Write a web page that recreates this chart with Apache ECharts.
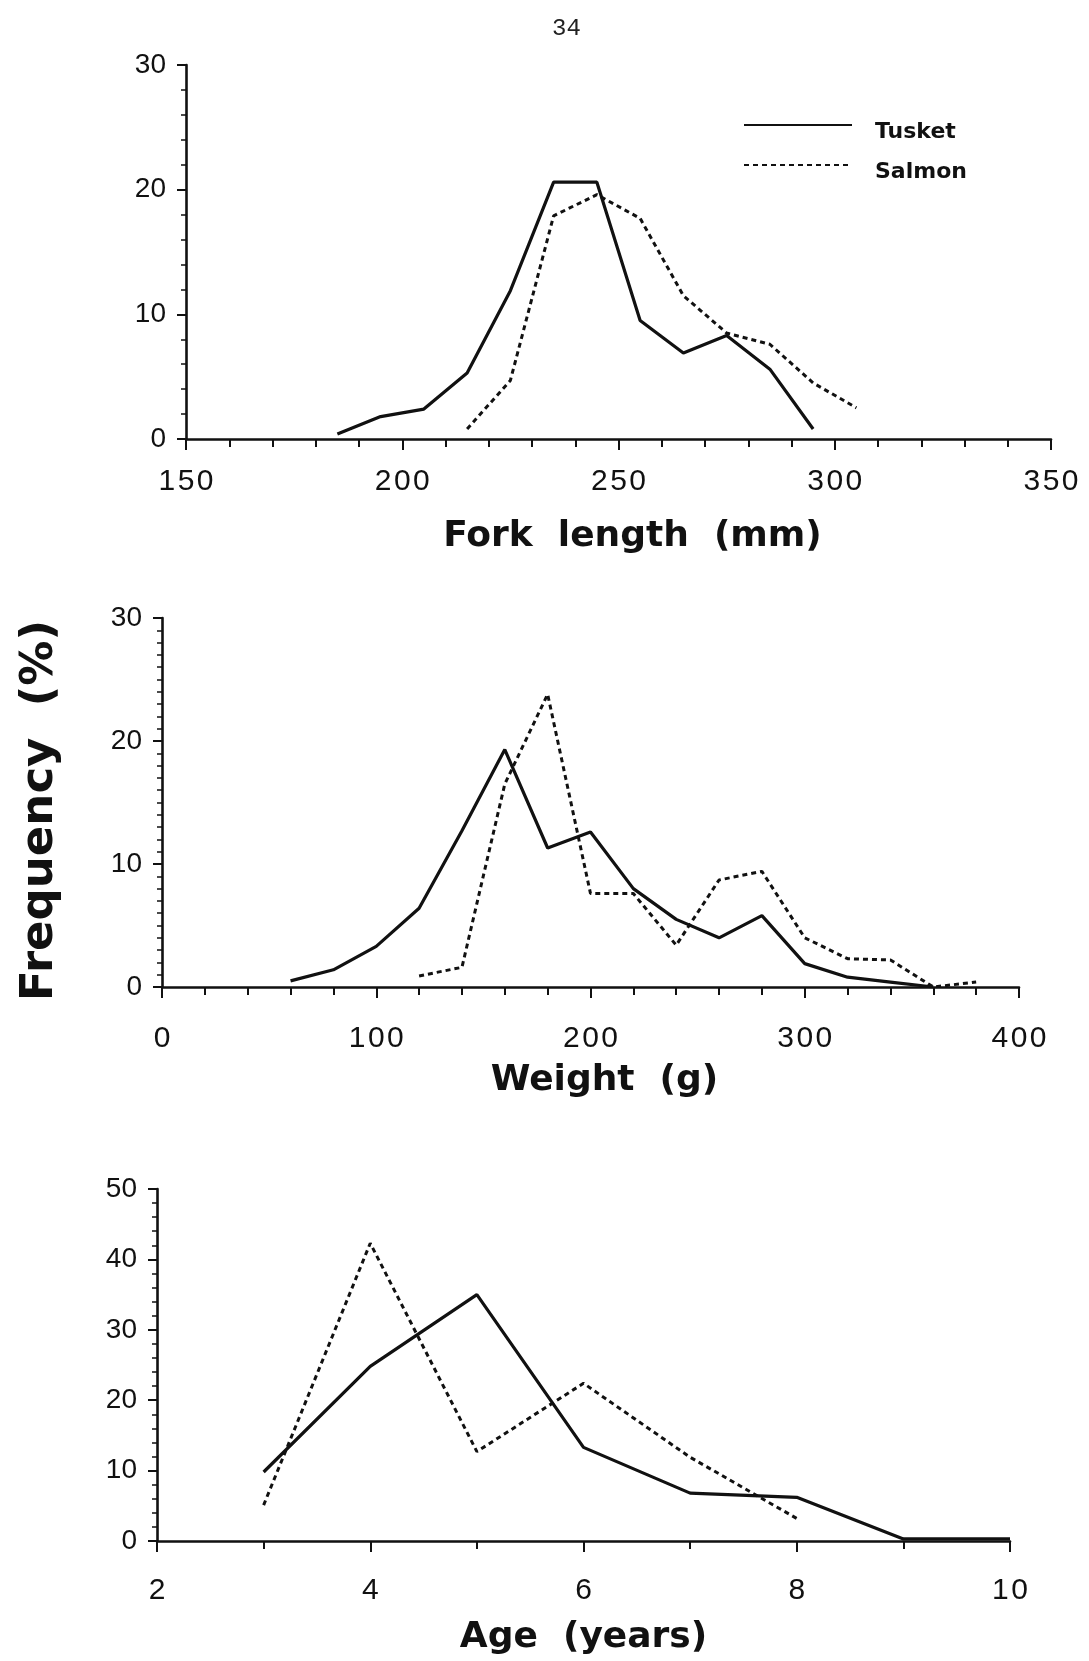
<!DOCTYPE html>
<html><head><meta charset="utf-8">
<script src="https://cdn.jsdelivr.net/npm/echarts@6/dist/echarts.min.js"></script>
<style>html,body{margin:0;padding:0;background:#fff}#c{width:1089px;height:1661px}</style>
</head><body><div id="c"></div>
<script>
// ---- Data ----
const pageNumber = "34";
const seriesNames = ["Tusket", "Salmon"];

// Panel 1: Fork length (mm)
const tusketLengthX = [185, 195, 205, 215, 225, 235, 245, 255, 265, 275, 285, 295];
const tusketLengthY = [0.4, 1.8, 2.4, 5.3, 11.9, 20.6, 20.6, 9.5, 6.9, 8.3, 5.6, 0.8];
const salmonLengthX = [215, 225, 235, 245, 255, 265, 275, 285, 295, 305];
const salmonLengthY = [0.8, 4.7, 17.9, 19.6, 17.7, 11.5, 8.5, 7.6, 4.5, 2.5];

// Panel 2: Weight (g)
const tusketWeightX = [60, 80, 100, 120, 140, 160, 180, 200, 220, 240, 260, 280, 300, 320, 340, 360];
const tusketWeightY = [0.5, 1.4, 3.3, 6.4, 12.7, 19.3, 11.3, 12.6, 8.0, 5.5, 4.0, 5.8, 1.9, 0.8, 0.4, 0];
const salmonWeightX = [120, 140, 160, 180, 200, 220, 240, 260, 280, 300, 320, 340, 360, 380];
const salmonWeightY = [0.9, 1.6, 16.5, 23.8, 7.6, 7.6, 3.4, 8.7, 9.4, 4.0, 2.3, 2.2, 0, 0.4];

// Panel 3: Age (years)
const tusketAgeX = [3, 4, 5, 6, 7, 8, 9, 10];
const tusketAgeY = [9.8, 24.8, 35.0, 13.3, 6.8, 6.2, 0.3, 0.3];
const salmonAgeX = [3, 4, 5, 6, 7, 8];
const salmonAgeY = [5.1, 42.3, 12.7, 22.4, 11.9, 3.2];

const axisNames = ["Fork  length  (mm)", "Weight  (g)", "Age  (years)"];
const yAxisTitle = "Frequency  (%)";

// ---- Helpers ----
const pairs = (xs, ys) => xs.map((x, i) => [x, ys[i]]);
const xTickFont = {fontFamily: "Liberation Sans", fontSize: 30, color: "#111"};
const yTickFont = {fontFamily: "Liberation Sans", fontSize: 28, color: "#111"};
const nameFont = {fontFamily: "DejaVu Sans", fontSize: 36, fontWeight: "bold", color: "#111"};
const solid = {color: "#111", width: 3.2, type: "solid"};
const dashed = {color: "#111", width: 3, type: [5, 4]};
const spaced = v => String(v).split("").join("\u200A");

function xAx(idx, min, max, interval, minorSplit, margin, nameGap, shift) {
  return {
    type: "value", gridIndex: idx, min, max, interval,
    name: axisNames[idx], nameLocation: "middle", nameGap,
    nameTextStyle: Object.assign({padding: [0, 0, 0, shift]}, nameFont),
    axisLine: {show: true, onZero: false, lineStyle: {color: "#111", width: 2.6}},
    axisTick: {show: true, inside: false, length: 11, lineStyle: {color: "#111", width: 2}},
    minorTick: {show: true, splitNumber: minorSplit, length: 8, lineStyle: {color: "#111", width: 2}},
    axisLabel: Object.assign({margin, formatter: spaced}, xTickFont),
    splitLine: {show: false}, minorSplitLine: {show: false}
  };
}
function yAx(idx, min, max, interval, minorSplit, extra) {
  return Object.assign({
    type: "value", gridIndex: idx, min, max, interval,
    axisLine: {show: true, lineStyle: {color: "#111", width: 2.6}},
    axisTick: {show: true, inside: false, length: 9, lineStyle: {color: "#111", width: 2}},
    minorTick: {show: true, splitNumber: minorSplit, length: 5, lineStyle: {color: "#111", width: 1.5}},
    axisLabel: Object.assign({margin: 20}, yTickFont),
    splitLine: {show: false}, minorSplitLine: {show: false}
  }, extra || {});
}
function line(name, xi, data, style) {
  return {type: "line", name, xAxisIndex: xi, yAxisIndex: xi, data, symbol: "none",
    lineStyle: style, itemStyle: {color: "#111"}, animation: false, z: 3};
}

const chart = echarts.init(document.getElementById("c"), null, {renderer: "canvas"});
chart.setOption({
  backgroundColor: "#fff",
  animation: false,
  grid: [
    {left: 186, top: 65, width: 865, height: 374},
    {left: 162, top: 618, width: 857, height: 369},
    {left: 157, top: 1189, width: 853, height: 352}
  ],
  xAxis: [
    xAx(0, 150, 350, 50, 5, 28, 80, 28),
    xAx(1, 0, 400, 100, 5, 37, 76, 28),
    xAx(2, 2, 10, 2, 2, 35, 79, 0)
  ],
  yAxis: [
    yAx(0, 0, 30, 10, 5),
    yAx(1, 0, 30, 10, 10, {name: yAxisTitle, nameLocation: "middle", nameRotate: 90, nameGap: 99,
      nameTextStyle: {fontFamily: "DejaVu Sans", fontSize: 45, fontWeight: "bold", color: "#111", padding: [0, 16, 0, 0]}}),
    yAx(2, 0, 50, 10, 5)
  ],
  legend: {
    show: true, left: 738, top: 102, orient: "vertical", itemGap: 4,
    itemWidth: 108, itemHeight: 14,
    itemStyle: {opacity: 0},
    formatter: name => "\n" + name,
    textStyle: {fontFamily: "DejaVu Sans", fontSize: 22, fontWeight: "bold", color: "#111", lineHeight: 14, padding: [0, 0, 0, 18]},
    data: seriesNames
  },
  graphic: [{
    type: "text", left: 552, top: 17,
    style: {text: pageNumber, font: "24px 'Liberation Mono'", fill: "#222"}
  }],
  series: [
    line(seriesNames[0], 0, pairs(tusketLengthX, tusketLengthY), solid),
    line(seriesNames[1], 0, pairs(salmonLengthX, salmonLengthY), dashed),
    line(seriesNames[0], 1, pairs(tusketWeightX, tusketWeightY), solid),
    line(seriesNames[1], 1, pairs(salmonWeightX, salmonWeightY), dashed),
    line(seriesNames[0], 2, pairs(tusketAgeX, tusketAgeY), solid),
    line(seriesNames[1], 2, pairs(salmonAgeX, salmonAgeY), dashed)
  ]
});
</script></body></html>
